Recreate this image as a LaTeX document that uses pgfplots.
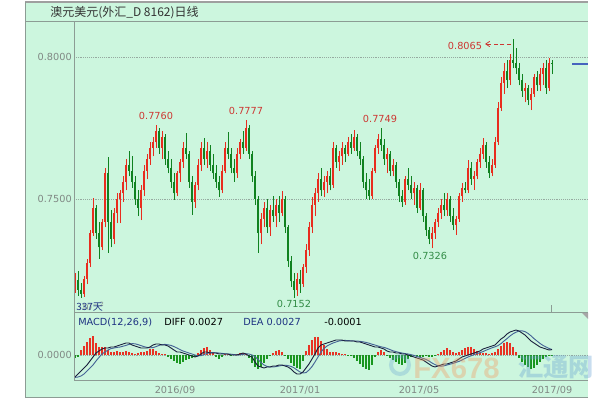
\documentclass[border=0pt]{standalone}
\usepackage{pgfplots}
\pgfplotsset{compat=1.18}
\usepackage{pgfplotstable}
\usepackage{fontspec}
\setmainfont{DejaVu Sans}
\newfontfamily\cjk{Noto Sans CJK SC}
\newfontfamily\wm{Liberation Sans}
\usetikzlibrary{arrows.meta}
\definecolor{bg}{RGB}{204,246,222}
\definecolor{framec}{RGB}{140,156,148}
\definecolor{gridc}{RGB}{150,170,160}
\definecolor{lab}{RGB}{128,136,132}
\definecolor{upc}{RGB}{232,44,30}
\definecolor{dnc}{RGB}{16,130,32}
\definecolor{annr}{RGB}{205,55,50}
\definecolor{anng}{RGB}{50,140,70}
\definecolor{navy}{RGB}{30,50,130}
\definecolor{diffc}{RGB}{25,30,60}
\definecolor{deac}{RGB}{70,100,150}
\definecolor{hr}{RGB}{232,50,35}
\definecolor{hg}{RGB}{25,150,30}
\definecolor{wmo}{RGB}{245,150,90}
\definecolor{wmb}{RGB}{100,160,210}
\definecolor{mkc}{RGB}{70,100,190}
\newcommand\lf{\fontsize{7.3}{8}\selectfont}

\pgfplotstableread{
i o h l c
0 0.7200 0.7238 0.7170 0.7215
1 0.7215 0.7245 0.7160 0.7180
2 0.7180 0.7205 0.7152 0.7165
3 0.7165 0.7230 0.7155 0.7220
4 0.7220 0.7290 0.7200 0.7275
5 0.7275 0.7390 0.7260 0.7380
6 0.7380 0.7505 0.7370 0.7470
7 0.7470 0.7480 0.7360 0.7380
8 0.7380 0.7420 0.7290 0.7330
9 0.7330 0.7430 0.7320 0.7420
10 0.7420 0.7610 0.7400 0.7590
11 0.7590 0.7648 0.7310 0.7420
12 0.7420 0.7460 0.7330 0.7360
13 0.7360 0.7470 0.7340 0.7450
14 0.7450 0.7520 0.7415 0.7500
15 0.7500 0.7530 0.7415 0.7520
16 0.7520 0.7580 0.7490 0.7560
17 0.7560 0.7640 0.7530 0.7620
18 0.7620 0.7670 0.7580 0.7600
19 0.7600 0.7650 0.7540 0.7560
20 0.7560 0.7580 0.7480 0.7500
21 0.7500 0.7530 0.7440 0.7470
22 0.7470 0.7550 0.7426 0.7530
23 0.7530 0.7620 0.7510 0.7600
24 0.7600 0.7660 0.7570 0.7640
25 0.7640 0.7700 0.7620 0.7680
26 0.7680 0.7720 0.7650 0.7700
27 0.7700 0.7760 0.7680 0.7740
28 0.7740 0.7750 0.7660 0.7680
29 0.7680 0.7740 0.7640 0.7720
30 0.7720 0.7730 0.7620 0.7640
31 0.7640 0.7670 0.7590 0.7610
32 0.7610 0.7640 0.7540 0.7560
33 0.7560 0.7590 0.7497 0.7520
34 0.7520 0.7600 0.7510 0.7590
35 0.7590 0.7640 0.7560 0.7630
36 0.7630 0.7700 0.7610 0.7680
37 0.7680 0.7732 0.7640 0.7660
38 0.7660 0.7670 0.7540 0.7560
39 0.7560 0.7580 0.7444 0.7490
40 0.7490 0.7560 0.7470 0.7550
41 0.7550 0.7640 0.7530 0.7620
42 0.7620 0.7700 0.7600 0.7680
43 0.7680 0.7715 0.7620 0.7640
44 0.7640 0.7700 0.7610 0.7670
45 0.7670 0.7690 0.7600 0.7620
46 0.7620 0.7660 0.7570 0.7590
47 0.7590 0.7620 0.7540 0.7560
48 0.7560 0.7580 0.7507 0.7530
49 0.7530 0.7620 0.7520 0.7600
50 0.7600 0.7700 0.7590 0.7680
51 0.7680 0.7736 0.7640 0.7660
52 0.7660 0.7680 0.7590 0.7610
53 0.7610 0.7640 0.7560 0.7590
54 0.7590 0.7680 0.7575 0.7660
55 0.7660 0.7710 0.7640 0.7700
56 0.7700 0.7740 0.7660 0.7680
57 0.7680 0.7778 0.7670 0.7750
58 0.7750 0.7760 0.7640 0.7660
59 0.7660 0.7670 0.7560 0.7580
60 0.7580 0.7600 0.7480 0.7500
61 0.7500 0.7510 0.7310 0.7380
62 0.7380 0.7450 0.7340 0.7430
63 0.7430 0.7490 0.7400 0.7470
64 0.7470 0.7500 0.7380 0.7400
65 0.7400 0.7480 0.7370 0.7460
66 0.7460 0.7510 0.7420 0.7440
67 0.7440 0.7500 0.7400 0.7480
68 0.7480 0.7510 0.7420 0.7450
69 0.7450 0.7528 0.7440 0.7500
70 0.7500 0.7510 0.7380 0.7400
71 0.7400 0.7410 0.7260 0.7280
72 0.7280 0.7300 0.7190 0.7210
73 0.7210 0.7240 0.7152 0.7180
74 0.7180 0.7240 0.7160 0.7220
75 0.7220 0.7250 0.7170 0.7200
76 0.7200 0.7270 0.7190 0.7260
77 0.7260 0.7340 0.7240 0.7320
78 0.7320 0.7420 0.7300 0.7400
79 0.7400 0.7507 0.7380 0.7480
80 0.7480 0.7540 0.7440 0.7520
81 0.7520 0.7590 0.7490 0.7570
82 0.7570 0.7610 0.7510 0.7530
83 0.7530 0.7580 0.7507 0.7560
84 0.7560 0.7600 0.7520 0.7580
85 0.7580 0.7610 0.7530 0.7550
86 0.7550 0.7700 0.7540 0.7680
87 0.7680 0.7690 0.7610 0.7630
88 0.7630 0.7670 0.7600 0.7650
89 0.7650 0.7700 0.7620 0.7680
90 0.7680 0.7690 0.7630 0.7660
91 0.7660 0.7720 0.7650 0.7700
92 0.7700 0.7730 0.7660 0.7680
93 0.7680 0.7743 0.7670 0.7720
94 0.7720 0.7730 0.7650 0.7670
95 0.7670 0.7700 0.7620 0.7640
96 0.7640 0.7650 0.7540 0.7560
97 0.7560 0.7590 0.7500 0.7530
98 0.7530 0.7570 0.7497 0.7510
99 0.7510 0.7610 0.7500 0.7600
100 0.7600 0.7690 0.7590 0.7680
101 0.7680 0.7730 0.7660 0.7710
102 0.7710 0.7749 0.7670 0.7690
103 0.7690 0.7710 0.7620 0.7640
104 0.7640 0.7680 0.7590 0.7660
105 0.7660 0.7670 0.7580 0.7600
106 0.7600 0.7640 0.7580 0.7620
107 0.7620 0.7630 0.7540 0.7560
108 0.7560 0.7570 0.7490 0.7510
109 0.7510 0.7530 0.7472 0.7490
110 0.7490 0.7580 0.7480 0.7570
111 0.7570 0.7610 0.7530 0.7550
112 0.7550 0.7580 0.7500 0.7520
113 0.7520 0.7560 0.7480 0.7540
114 0.7540 0.7550 0.7450 0.7470
115 0.7470 0.7556 0.7460 0.7530
116 0.7530 0.7540 0.7420 0.7440
117 0.7440 0.7450 0.7370 0.7390
118 0.7390 0.7400 0.7340 0.7360
119 0.7360 0.7400 0.7326 0.7380
120 0.7380 0.7430 0.7360 0.7420
121 0.7420 0.7470 0.7400 0.7450
122 0.7450 0.7500 0.7430 0.7480
123 0.7480 0.7520 0.7440 0.7460
124 0.7460 0.7521 0.7440 0.7500
125 0.7500 0.7510 0.7420 0.7440
126 0.7440 0.7470 0.7390 0.7410
127 0.7410 0.7440 0.7373 0.7430
128 0.7430 0.7520 0.7420 0.7510
129 0.7510 0.7556 0.7490 0.7540
130 0.7540 0.7560 0.7520 0.7530
131 0.7530 0.7637 0.7520 0.7610
132 0.7610 0.7630 0.7550 0.7570
133 0.7570 0.7600 0.7532 0.7580
134 0.7580 0.7640 0.7570 0.7630
135 0.7630 0.7680 0.7610 0.7660
136 0.7660 0.7715 0.7640 0.7690
137 0.7690 0.7700 0.7610 0.7630
138 0.7630 0.7650 0.7574 0.7590
139 0.7590 0.7640 0.7580 0.7620
140 0.7620 0.7720 0.7610 0.7700
141 0.7700 0.7840 0.7690 0.7820
142 0.7820 0.7930 0.7810 0.7910
143 0.7910 0.7980 0.7870 0.7950
144 0.7950 0.7990 0.7890 0.7920
145 0.7920 0.8010 0.7900 0.7990
146 0.7990 0.8065 0.7960 0.7980
147 0.7980 0.8030 0.7940 0.7960
148 0.7960 0.7980 0.7900 0.7920
149 0.7920 0.7940 0.7860 0.7880
150 0.7880 0.7910 0.7840 0.7890
151 0.7890 0.7900 0.7830 0.7850
152 0.7850 0.7890 0.7813 0.7870
153 0.7870 0.7940 0.7860 0.7930
154 0.7930 0.7950 0.7880 0.7900
155 0.7900 0.7960 0.7880 0.7940
156 0.7940 0.7980 0.7900 0.7960
157 0.7960 0.7990 0.7870 0.7890
158 0.7890 0.7995 0.7880 0.7980
159 0.7980 0.7990 0.7940 0.7975
}\price

\pgfplotstableread{
i d e h
0 -0.0110 -0.0112 -0.0015
1 -0.0095 -0.0110 -0.0010
2 -0.0080 -0.0105 0.0025
3 -0.0065 -0.0095 0.0045
4 -0.0050 -0.0080 0.0065
5 -0.0030 -0.0065 0.0085
6 -0.0010 -0.0050 0.0095
7 0.0010 -0.0030 0.0060
8 0.0020 -0.0012 0.0040
9 0.0030 0.0005 0.0040
10 0.0035 0.0015 0.0040
11 0.0035 0.0025 0.0025
12 0.0040 0.0032 0.0015
13 0.0040 0.0035 0.0015
14 0.0045 0.0038 0.0020
15 0.0050 0.0040 0.0015
16 0.0055 0.0044 0.0015
17 0.0060 0.0048 0.0020
18 0.0060 0.0053 0.0015
19 0.0050 0.0057 0.0010
20 0.0045 0.0056 0.0005
21 0.0040 0.0052 0.0010
22 0.0035 0.0047 0.0015
23 0.0035 0.0042 0.0015
24 0.0035 0.0038 0.0020
25 0.0040 0.0036 0.0030
26 0.0050 0.0037 0.0030
27 0.0055 0.0042 0.0020
28 0.0055 0.0048 0.0010
29 0.0050 0.0052 0.0005
30 0.0050 0.0053 0.0005
31 0.0045 0.0051 -0.0010
32 0.0035 0.0048 -0.0020
33 0.0025 0.0042 -0.0030
34 0.0015 0.0035 -0.0040
35 0.0015 0.0027 -0.0045
36 0.0010 0.0020 -0.0035
37 0.0005 0.0015 -0.0025
38 0.0000 0.0010 -0.0020
39 -0.0005 0.0005 -0.0015
40 -0.0010 0.0000 -0.0010
41 -0.0005 -0.0004 0.0010
42 0.0005 -0.0003 0.0025
43 0.0015 0.0002 0.0035
44 0.0015 0.0008 0.0040
45 0.0010 0.0012 0.0025
46 0.0010 0.0012 0.0010
47 0.0010 0.0011 -0.0010
48 0.0005 0.0010 -0.0020
49 0.0005 0.0008 -0.0010
50 0.0005 0.0006 0.0005
51 0.0005 0.0005 0.0005
52 0.0000 0.0004 -0.0005
53 0.0000 0.0002 0.0005
54 0.0000 0.0001 0.0005
55 0.0005 0.0001 0.0010
56 0.0010 0.0003 0.0010
57 0.0005 0.0006 0.0005
58 -0.0005 0.0005 -0.0015
59 -0.0010 0.0000 -0.0040
60 -0.0035 -0.0008 -0.0060
61 -0.0055 -0.0022 -0.0070
62 -0.0060 -0.0038 -0.0060
63 -0.0065 -0.0050 -0.0040
64 -0.0060 -0.0057 -0.0020
65 -0.0060 -0.0060 -0.0005
66 -0.0055 -0.0060 0.0010
67 -0.0055 -0.0058 0.0020
68 -0.0050 -0.0055 0.0025
69 -0.0050 -0.0052 0.0015
70 -0.0055 -0.0051 -0.0005
71 -0.0060 -0.0053 -0.0020
72 -0.0070 -0.0057 -0.0040
73 -0.0085 -0.0064 -0.0055
74 -0.0095 -0.0075 -0.0065
75 -0.0095 -0.0085 -0.0070
76 -0.0085 -0.0090 -0.0030
77 -0.0065 -0.0088 0.0020
78 -0.0045 -0.0075 0.0050
79 -0.0020 -0.0058 0.0075
80 0.0005 -0.0035 0.0090
81 0.0035 -0.0010 0.0090
82 0.0050 0.0015 0.0070
83 0.0055 0.0033 0.0050
84 0.0060 0.0045 0.0030
85 0.0065 0.0053 0.0015
86 0.0070 0.0060 0.0015
87 0.0075 0.0065 0.0015
88 0.0075 0.0070 0.0010
89 0.0075 0.0072 0.0005
90 0.0070 0.0073 0.0003
91 0.0070 0.0072 -0.0003
92 0.0070 0.0071 -0.0005
93 0.0070 0.0070 -0.0015
94 0.0065 0.0070 -0.0030
95 0.0065 0.0068 -0.0045
96 0.0060 0.0066 -0.0060
97 0.0055 0.0063 -0.0070
98 0.0050 0.0059 -0.0075
99 0.0045 0.0054 -0.0050
100 0.0040 0.0050 -0.0010
101 0.0040 0.0045 0.0015
102 0.0035 0.0041 0.0025
103 0.0030 0.0038 0.0015
104 0.0020 0.0033 -0.0005
105 0.0015 0.0027 -0.0015
106 0.0015 0.0021 -0.0025
107 0.0010 0.0017 -0.0035
108 0.0010 0.0013 -0.0045
109 0.0005 0.0010 -0.0050
110 0.0005 0.0007 -0.0040
111 0.0000 0.0005 -0.0020
112 -0.0005 0.0002 -0.0010
113 -0.0010 -0.0002 -0.0005
114 -0.0015 -0.0007 -0.0010
115 -0.0020 -0.0012 -0.0010
116 -0.0025 -0.0017 -0.0010
117 -0.0035 -0.0022 -0.0005
118 -0.0045 -0.0030 -0.0010
119 -0.0055 -0.0040 -0.0010
120 -0.0060 -0.0048 -0.0005
121 -0.0055 -0.0054 0.0005
122 -0.0050 -0.0056 0.0015
123 -0.0045 -0.0054 0.0025
124 -0.0045 -0.0050 0.0035
125 -0.0040 -0.0046 0.0025
126 -0.0035 -0.0042 0.0015
127 -0.0030 -0.0037 0.0010
128 -0.0020 -0.0032 0.0015
129 -0.0010 -0.0025 0.0025
130 -0.0005 -0.0017 0.0035
131 0.0000 -0.0010 0.0040
132 0.0005 -0.0004 0.0040
133 0.0010 0.0002 0.0030
134 0.0015 0.0007 0.0020
135 0.0020 0.0012 0.0010
136 0.0030 0.0017 0.0010
137 0.0035 0.0024 0.0010
138 0.0040 0.0030 0.0005
139 0.0045 0.0036 0.0010
140 0.0050 0.0041 0.0015
141 0.0065 0.0047 0.0030
142 0.0080 0.0057 0.0045
143 0.0090 0.0070 0.0060
144 0.0105 0.0082 0.0065
145 0.0115 0.0095 0.0060
146 0.0120 0.0106 0.0040
147 0.0125 0.0114 0.0015
148 0.0120 0.0120 -0.0015
149 0.0110 0.0121 -0.0035
150 0.0100 0.0117 -0.0050
151 0.0085 0.0108 -0.0060
152 0.0070 0.0096 -0.0070
153 0.0060 0.0082 -0.0065
154 0.0050 0.0070 -0.0050
155 0.0040 0.0058 -0.0035
156 0.0035 0.0048 -0.0020
157 0.0030 0.0040 -0.0010
158 0.0025 0.0033 -0.0005
159 0.0027 0.0027 -0.0001
}\macd

\begin{document}
\begin{tikzpicture}
\begin{scope}[x=0.75pt,y=0.75pt]
\useasboundingbox (0,0) rectangle (614,400);
\fill[white] (0,0) rectangle (614,400);
\fill[bg] (25,2) rectangle (588,398);
\end{scope}

% ---------- price panel ----------
\begin{axis}[
  at={(55.5pt,65.25pt)}, anchor=south west, scale only axis,
  width=385.5pt, height=218.25pt,
  xmin=-0.333, xmax=171, ymin=0.70986, ymax=0.81232,
  axis line style={draw=none}, tick style={draw=none},
  xtick=\empty, ytick={0.75,0.8}, yticklabels={0.7500,0.8000},
  ymajorgrids, grid style={densely dotted, gridc, line width=0.6pt},
  yticklabel style={font=\lf, text=lab, inner sep=0pt},
  yticklabel shift=1.5pt,
  /pgf/number format/assume math mode=true,
]
% wicks
\addplot[draw=none, mark=none, forget plot,
  restrict expr to domain={\thisrow{c}-\thisrow{o}}{0:1},
  error bars/.cd, y dir=plus, y explicit, error mark=none,
  error bar style={draw=upc, line width=0.55pt}]
  table[x=i, y=l, y error plus expr={\thisrow{h}-\thisrow{l}}] {\price};
\addplot[draw=none, mark=none, forget plot,
  restrict expr to domain={\thisrow{c}-\thisrow{o}}{-1:-0.00001},
  error bars/.cd, y dir=plus, y explicit, error mark=none,
  error bar style={draw=dnc, line width=0.55pt}]
  table[x=i, y=l, y error plus expr={\thisrow{h}-\thisrow{l}}] {\price};
% bodies
\addplot[draw=none, mark=none, forget plot,
  restrict expr to domain={\thisrow{c}-\thisrow{o}}{0:1},
  error bars/.cd, y dir=plus, y explicit, error mark=none,
  error bar style={draw=upc, line width=1.4pt}]
  table[x=i, y=o, y error plus expr={\thisrow{c}-\thisrow{o}}] {\price};
\addplot[draw=none, mark=none, forget plot,
  restrict expr to domain={\thisrow{c}-\thisrow{o}}{-1:-0.00001},
  error bars/.cd, y dir=plus, y explicit, error mark=none,
  error bar style={draw=dnc, line width=1.4pt}]
  table[x=i, y=c, y error plus expr={\thisrow{o}-\thisrow{c}}] {\price};
% current price marker
\addplot[mkc, line width=1.2pt, mark=none, forget plot] coordinates {(165.7,0.7975) (171,0.7975)};
\end{axis}

% ---------- MACD panel ----------
\begin{axis}[
  at={(55.5pt,15pt)}, anchor=south west, scale only axis,
  width=385.5pt, height=50.25pt,
  xmin=-0.333, xmax=171, ymin=-0.0125, ymax=0.021,
  axis line style={draw=none}, tick style={draw=none},
  xtick={33.33,75,114.67,159},
  xticklabels={2016/09,2017/01,2017/05,2017/09},
  xticklabel style={font=\lf, text=lab, anchor=center, yshift=-7.5pt},
  ytick={0}, yticklabels={0.0000},
  yticklabel style={font=\lf, text=lab, inner sep=0pt},
  yticklabel shift=1.5pt,
  ymajorgrids, grid style={densely dotted, gridc, line width=0.6pt},
  /pgf/number format/assume math mode=true,
]
\addplot[ycomb, draw=hr, line width=1.1pt, mark=none, restrict y to domain=0:1] table[x=i, y=h] {\macd};
\addplot[ycomb, draw=hg, line width=1.1pt, mark=none, restrict y to domain=-1:-0.000001] table[x=i, y=h] {\macd};
\addplot[deac, line width=0.7pt, mark=none] table[x=i, y=e] {\macd};
\addplot[diffc, line width=0.7pt, mark=none] table[x=i, y=d] {\macd};
\end{axis}

\begin{scope}[x=0.75pt,y=0.75pt]
% frame
\draw[gray!75, line width=1.5pt] (25,398) -- (588,398);
\draw[framec, line width=0.75pt] (25,2) -- (25,398);
\draw[framec, line width=0.75pt] (25,2.5) -- (588,2.5);
\draw[framec, line width=0.75pt] (25,378) -- (588,378);
\draw[framec, line width=0.75pt] (74,20) -- (74,378);
\draw[framec, line width=0.75pt] (74,87) -- (588,87);
\draw[framec, line width=0.75pt] (74,20) -- (588,20);
\draw[framec, line width=0.6pt] (551,87) -- (551,95);
\fill[gray!70] (582,87) -- (588,87) -- (588,81) -- cycle;
% title
\node[anchor=west, inner sep=0pt, text=black!80, font=\cjk\fontsize{9}{10}\selectfont] at (50,387) {澳元美元(外汇\_D 8162)日线};
% annotations
\node[text=annr, font=\lf, inner sep=0pt] at (156,284) {0.7760};
\node[text=annr, font=\lf, inner sep=0pt] at (246,289) {0.7777};
\node[text=annr, font=\lf, inner sep=0pt] at (380,281) {0.7749};
\node[text=annr, font=\lf, inner sep=0pt] at (465,354) {0.8065};
\draw[annr, densely dashed, line width=0.6pt, -{Straight Barb[length=3pt,width=4pt]}] (511,356) -- (485,356);
\node[text=anng, font=\lf, inner sep=0pt] at (294,96) {0.7152};
\node[text=anng, font=\lf, inner sep=0pt] at (430,144) {0.7326};
\node[anchor=west, text=navy, font=\cjk\fontsize{7.5}{8}\selectfont, inner sep=0pt] at (76,93) {337天};
% MACD legend
\node[anchor=west, text=navy, font=\lf, inner sep=0pt] at (78,78) {MACD(12,26,9)};
\node[anchor=west, text=black, font=\lf, inner sep=0pt] at (164,78) {DIFF 0.0027};
\node[anchor=west, text=navy, font=\lf, inner sep=0pt] at (243,78) {DEA 0.0027};
\node[anchor=west, text=black, font=\lf, inner sep=0pt] at (324,78) {-0.0001};
% watermark
\draw[wmb, opacity=0.3, line width=3pt] (400,35) circle (9);
\node[anchor=west, inner sep=0pt, text=wmo, opacity=0.35, font=\wm\bfseries\fontsize{22}{22}\selectfont] at (413,32) {FX678};
\node[anchor=west, inner sep=0pt, text=wmb, opacity=0.35, font=\cjk\bfseries\fontsize{19}{20}\selectfont] at (518,33) {汇通网};
\end{scope}
\end{tikzpicture}
\end{document}
